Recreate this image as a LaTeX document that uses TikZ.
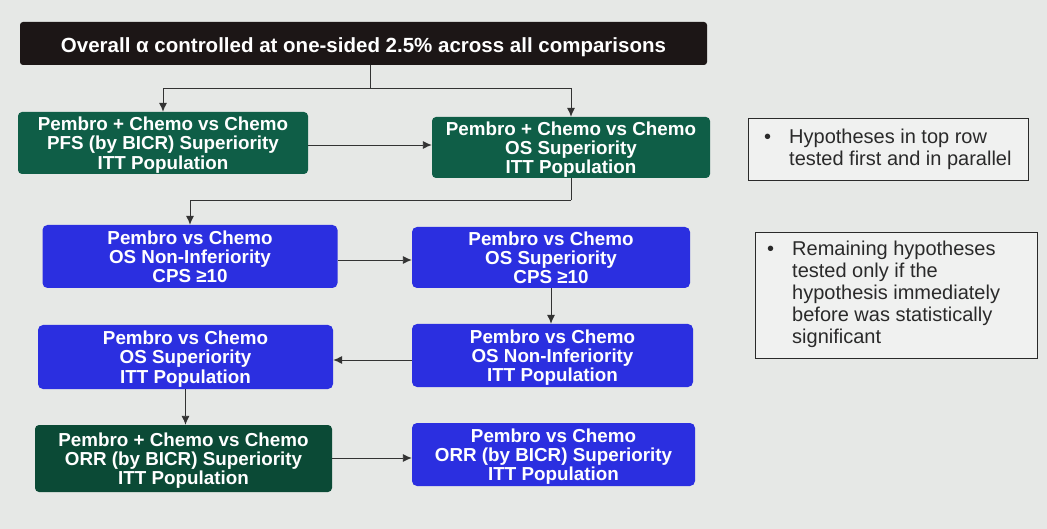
\documentclass[tikz,border=0pt]{standalone}
\usepackage{fontspec}
\setmainfont{Liberation Sans}
\usetikzlibrary{arrows.meta}
\definecolor{bgc}{HTML}{E6E8E6}
\definecolor{topc}{HTML}{1C1616}
\definecolor{grn}{HTML}{0F5E47}
\definecolor{dgrn}{HTML}{0B4A36}
\definecolor{blu}{HTML}{2B2FE0}
\definecolor{linec}{HTML}{333333}
\definecolor{notec}{HTML}{2A2A2A}
\newcommand\hyplines[1]{\raisebox{-3pt}[\height][\depth]{\begin{tabular}{@{}c@{}}#1\end{tabular}}}
\tikzset{
  hyp/.style={rounded corners=4pt, text=white,
    font=\fontsize{18.8}{18.8}\selectfont\bfseries, inner sep=0pt},
  grnbox/.style={hyp, fill=grn},
  dgrnbox/.style={hyp, fill=dgrn},
  blubox/.style={hyp, fill=blu, rounded corners=5pt},
  notebox/.style={draw=notec, line width=1.2pt, fill=bgc!60!white, inner sep=0pt,
    anchor=north west},
  notetext/.style={anchor=north west, font=\fontsize{20}{22}\selectfont, text=notec, inner sep=0pt},
  conn/.style={draw=linec, line width=0.9pt},
  arr/.style={conn, -{Latex[length=9pt,width=8pt]}}
}
\begin{document}
\begin{tikzpicture}[x=1pt,y=-1pt]
\fill[bgc] (0,0) rectangle (1047,529);
\useasboundingbox (0,0) rectangle (1047,529);

\node[hyp, fill=topc, rounded corners=3pt, minimum width=687pt, minimum height=43pt,
  font=\fontsize{20.5}{21}\selectfont\bfseries] (top) at (363.5,43.5)
  {\raisebox{-4pt}[\height][\depth]{Overall α controlled at one-sided 2.5\% across all comparisons}};

\node[grnbox, minimum width=290pt, minimum height=62pt] (g1) at (163,143)
  {\hyplines{Pembro + Chemo vs Chemo\\PFS (by BICR) Superiority\\ITT Population}};
\node[grnbox, minimum width=278pt, minimum height=61pt] (g2) at (571,147.5)
  {\hyplines{Pembro + Chemo vs Chemo\\OS Superiority\\ITT Population}};

\node[blubox, minimum width=295pt, minimum height=63pt] (b1) at (190,256.5)
  {\hyplines{Pembro vs Chemo\\OS Non-Inferiority\\CPS ≥10}};
\node[blubox, minimum width=278pt, minimum height=61pt] (b2) at (551,257.5)
  {\hyplines{Pembro vs Chemo\\OS Superiority\\CPS ≥10}};

\node[blubox, minimum width=295pt, minimum height=64pt] (b3) at (185.5,357)
  {\hyplines{Pembro vs Chemo\\OS Superiority\\ITT Population}};
\node[blubox, minimum width=281pt, minimum height=63pt] (b4) at (552.5,355.5)
  {\hyplines{Pembro vs Chemo\\OS Non-Inferiority\\ITT Population}};

\node[dgrnbox, minimum width=297pt, minimum height=67pt] (g3) at (183.5,458.5)
  {\hyplines{Pembro + Chemo vs Chemo\\ORR (by BICR) Superiority\\ITT Population}};
\node[blubox, minimum width=283pt, minimum height=63pt] (b5) at (553.5,454.5)
  {\hyplines{Pembro vs Chemo\\ORR (by BICR) Superiority\\ITT Population}};

% connectors
\coordinate (j1) at (370,88);
\draw[conn] (top.south -| j1) -- (j1);
\draw[arr] (j1) -| (g1.north);
\draw[arr] (j1) -| (g2.north);
\draw[arr] (g1.east |- 0,145) -- (g2.west |- 0,145);

\coordinate (j2) at (571,200);
\draw[conn] (g2.south) -- (j2);
\draw[arr] (j2) -| (b1.north);
\draw[arr] (b1.east |- 0,260) -- (b2.west |- 0,260);
\draw[arr] (b2.south) -- (b2.south |- b4.north);
\draw[arr] (b4.west |- 0,360) -- (b3.east |- 0,360);
\draw[arr] (b3.south) -- (b3.south |- g3.north);
\draw[arr] (g3.east |- 0,458) -- (b5.west |- 0,458);

% notes
\node[notebox, minimum width=280pt, minimum height=62pt] (n1) at (748,118) {};
\node[notetext] (t1) at (764,128)
  {\begin{tabular}{@{}l@{\hspace{18pt}}l@{}}•&Hypotheses in top row\\&tested first and in parallel\end{tabular}};

\node[notebox, minimum width=282pt, minimum height=126pt] (n2) at (755,232) {};
\node[notetext] (t2) at (767,240)
  {\begin{tabular}{@{}l@{\hspace{18pt}}l@{}}•&Remaining hypotheses\\&tested only if the\\&hypothesis immediately\\&before was statistically\\&significant\end{tabular}};
\end{tikzpicture}
\end{document}
